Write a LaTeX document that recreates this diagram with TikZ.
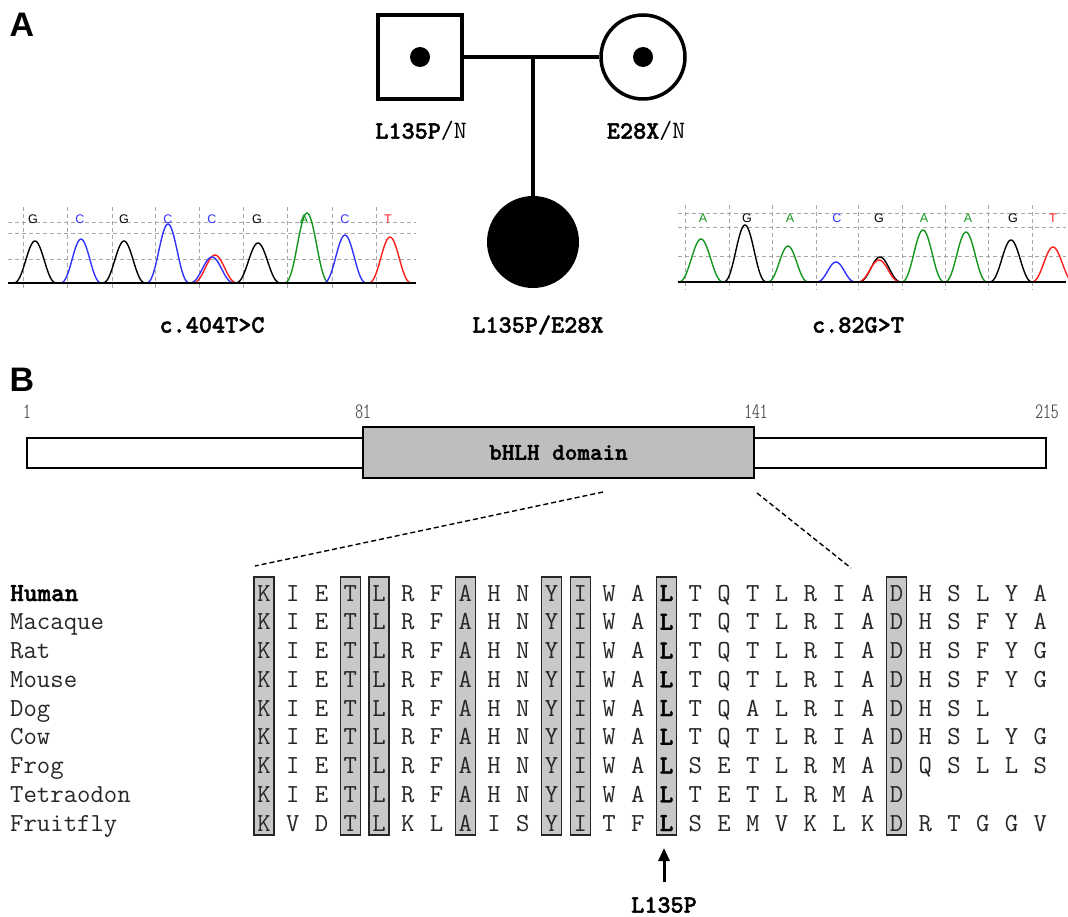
\documentclass[tikz,border=0pt]{standalone}
\usepackage{fontspec}
\setmainfont{Liberation Serif}
\newfontfamily\sansfam{Liberation Sans}
\newfontfamily\monobf[FakeBold=1.6]{lmmonolt10-bold.otf}
\newfontfamily\monocond{lmmonoltcond10-regular.otf}
\usetikzlibrary{arrows.meta}
\definecolor{cgreen}{RGB}{20,150,30}
\definecolor{cblue}{RGB}{50,50,255}
\definecolor{cred}{RGB}{255,30,30}
\definecolor{boxgray}{RGB}{200,200,200}
\definecolor{domgray}{RGB}{190,190,190}
\newcommand\chrompeak[5]{%
  \pgfmathsetmacro\pklo{#1-#3}\pgfmathsetmacro\pkhi{#1+#3}%
  \draw[#4, line width=1.4pt] plot[domain=\pklo:\pkhi, samples=41, smooth]
    (\x, {#5 - (#5-#2)*((1+cos(180*(\x-(#1))/(#3)))/2)^1.3});}
\newcommand\mb[1]{{\monobf #1}}
\begin{document}
\begin{tikzpicture}[x=1pt,y=-1pt,
  mtext/.style={font=\ttfamily\fontsize{25}{28}\selectfont, inner sep=0pt},
  mbold/.style={font=\monobf\fontsize{25}{28}\selectfont, inner sep=0pt},
  aalab/.style={font=\ttfamily\fontsize{26}{28}\selectfont, inner sep=0pt, anchor=base, text=black!85},
  namelab/.style={font=\ttfamily\fontsize{26}{28}\selectfont, inner sep=0pt, anchor=base west, text=black!85},
  numlab/.style={font=\monocond\fontsize{22}{24}\selectfont, inner sep=0pt, text=black!75},
  panel/.style={font=\sansfam\bfseries\fontsize{34}{36}\selectfont, inner sep=0pt},
  ped/.style={draw, line width=3.5pt, inner sep=0pt},
  pedline/.style={line width=3.5pt},
  grid/.style={gray!70, line width=0.9pt, dash pattern=on 4pt off 3pt},
  baseln/.style={black, line width=2.5pt},
  chl/.style={font=\sansfam\fontsize{12.5}{13}\selectfont, inner sep=0pt},
  consbox/.style={draw=black!85, fill=boxgray, line width=1.3pt},
  zoomln/.style={line width=1.4pt, dash pattern=on 5pt off 3pt},
]
\useasboundingbox (0,0) rectangle (1068,917);

% ---------- panel A ----------
\node[panel] (pA) at (22,25) {A};
\node[ped, rectangle, minimum size=84pt] (father) at (420,57) {};
\fill (father.center) circle (10);
\node[ped, circle, minimum size=84pt] (mother) at (643,57) {};
\fill (mother.center) circle (10);
\draw[pedline] (father.east) -- (mother.west);
\coordinate (mid) at (533,57);
\node[circle, fill, inner sep=0pt, minimum size=92pt] (child) at (533,242) {};
\draw[pedline] (mid) -- (child.north);
\node[mtext] (flab) at (421,131) {\mb{L135P}/N};
\node[mtext] (mlab) at (646,131) {\mb{E28X}/N};
\node[mbold] (clab) at (538,325) {L135P/E28X};
\node[mbold] (lchr) at (212,325) {c.404T>C};
\node[mbold] (rchr) at (858,325) {c.82G>T};

% left chromatogram
\foreach \yy in {222,233,259} \draw[grid] (8,\yy) -- (416,\yy);
\foreach \xx in {23,67,112,155,199,243,287,332,376} \draw[grid] (\xx,207) -- (\xx,290);
\chrompeak{35}{241}{22}{black}{283}
\chrompeak{81}{239}{21}{cblue}{283}
\chrompeak{124}{241}{22}{black}{283}
\chrompeak{168}{224}{22}{cblue}{283}
\chrompeak{215}{255}{23}{cred}{283}
\chrompeak{212}{257}{23}{cblue}{283}
\chrompeak{258}{243}{23}{black}{283}
\chrompeak{307}{213}{23}{cgreen}{283}
\chrompeak{345}{235}{22}{cblue}{283}
\chrompeak{390}{237}{22}{cred}{283}
\draw[baseln] (8,283) -- (416,283);
\foreach \xx/\bb/\cc in {33/G/black,80/C/cblue,124/G/black,168/C/cblue,212/C/cblue,257/G/black,304/A/cgreen,345/C/cblue,388/T/cred}
  \node[chl, text=\cc] at (\xx,219) {\bb};

% right chromatogram
\foreach \yy in {213,227,256} \draw[grid] (678,\yy) -- (1066,\yy);
\foreach \xx in {685,729,772,816,858,902,945,988,1032} \draw[grid] (\xx,205) -- (\xx,290);
\chrompeak{701}{239}{23}{cgreen}{282}
\chrompeak{745}{225}{22}{black}{282}
\chrompeak{788}{246}{21}{cgreen}{282}
\chrompeak{836}{262}{20}{cblue}{282}
\chrompeak{880}{257}{22}{black}{282}
\chrompeak{879}{260}{22}{cred}{282}
\chrompeak{923}{230}{22}{cgreen}{282}
\chrompeak{966}{232}{22}{cgreen}{282}
\chrompeak{1011}{240}{22}{black}{282}
\begin{scope}
\clip (1033,200) rectangle (1068,290);
\chrompeak{1053}{247}{22}{cred}{282}
\end{scope}
\draw[baseln] (678,282) -- (1066,282);
\foreach \xx/\bb/\cc in {703/A/cgreen,747/G/black,790/A/cgreen,837/C/cblue,879/G/black,924/A/cgreen,968/A/cgreen,1013/G/black,1053/T/cred}
  \node[chl, text=\cc] at (\xx,218) {\bb};

% ---------- panel B ----------
\node[panel] (pB) at (22,380) {B};
\node[draw, line width=1.2pt, fill=white, minimum width=1019pt, minimum height=30pt, inner sep=0pt] (prot) at (536.5,453) {};
\node[draw, line width=1.2pt, fill=domgray, minimum width=391pt, minimum height=51pt, inner sep=0pt, font=\monobf\fontsize{24}{26}\selectfont] (bhlh) at (558.5,452.5) {bHLH domain};
\node[numlab] (n1) at (27,412) {1};
\node[numlab] (n81) at (363,412) {81};
\node[numlab] (n141) at (756,412) {141};
\node[numlab] (n215) at (1047,412) {215};

\coordinate (bhlhL) at (603,492);
\coordinate (bhlhR) at (757,493);
\coordinate (alnL) at (255,566);
\coordinate (alnR) at (851,568);
\draw[zoomln] (bhlhL) -- (alnL);
\draw[zoomln] (bhlhR) -- (alnR);

% conserved boxes
\foreach \c in {0,3,4,7,10,11,14,22} {
  \pgfmathsetmacro\cx{264+28.75*\c}
  \draw[consbox] (\cx-10,577) rectangle (\cx+10,835);
}
% alignment
\foreach \nm/\sq [count=\r from 0] in {
  Human/{K,I,E,T,L,R,F,A,H,N,Y,I,W,A,L,T,Q,T,L,R,I,A,D,H,S,L,Y,A},
  Macaque/{K,I,E,T,L,R,F,A,H,N,Y,I,W,A,L,T,Q,T,L,R,I,A,D,H,S,F,Y,A},
  Rat/{K,I,E,T,L,R,F,A,H,N,Y,I,W,A,L,T,Q,T,L,R,I,A,D,H,S,F,Y,G},
  Mouse/{K,I,E,T,L,R,F,A,H,N,Y,I,W,A,L,T,Q,T,L,R,I,A,D,H,S,F,Y,G},
  Dog/{K,I,E,T,L,R,F,A,H,N,Y,I,W,A,L,T,Q,A,L,R,I,A,D,H,S,L},
  Cow/{K,I,E,T,L,R,F,A,H,N,Y,I,W,A,L,T,Q,T,L,R,I,A,D,H,S,L,Y,G},
  Frog/{K,I,E,T,L,R,F,A,H,N,Y,I,W,A,L,S,E,T,L,R,M,A,D,Q,S,L,L,S},
  Tetraodon/{K,I,E,T,L,R,F,A,H,N,Y,I,W,A,L,T,E,T,L,R,M,A,D},
  Fruitfly/{K,V,D,T,L,K,L,A,I,S,Y,I,T,F,L,S,E,M,V,K,L,K,D,R,T,G,G,V}} {
  \pgfmathsetmacro\ry{594+28.75*\r}
  \node[namelab] (name-\r) at (10,\ry+7) {\ifnum\r=0 \monobf\color{black}\fi\nm};
  \foreach \a [count=\c from 0] in \sq {
    \pgfmathsetmacro\cx{264+28.75*\c}
    \node[aalab] (aa-\r-\c) at (\cx,\ry+7) {\ifnum\c=14 \monobf\color{black}\fi\a};
  }
}

% mutation arrow
\node[mbold] (mutlab) at (664,905) {L135P};
\coordinate (arrbase) at (664,882);
\coordinate (arrtip) at (664,848);
\draw[line width=3pt, -{Triangle[length=13pt,width=11pt]}] (arrbase) -- (arrtip);
\end{tikzpicture}
\end{document}
